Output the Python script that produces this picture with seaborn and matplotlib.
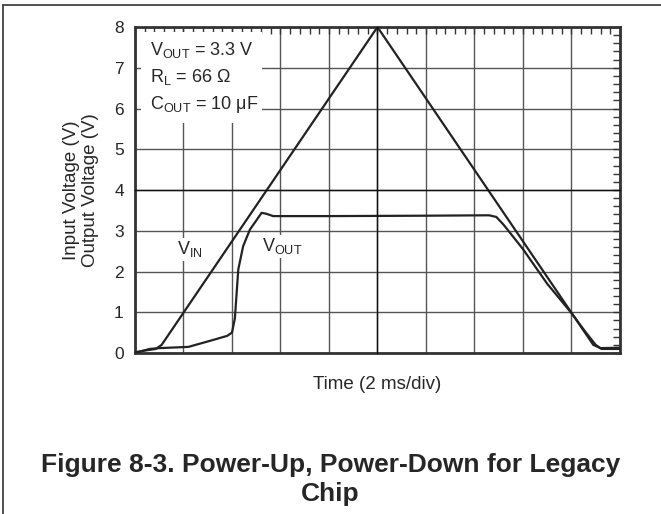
import numpy as np
import pandas as pd
import seaborn as sns
import matplotlib.pyplot as plt
from matplotlib.lines import Line2D
from matplotlib.patches import Rectangle
from matplotlib.ticker import MultipleLocator, NullFormatter

# --- data (x in divisions, 2 ms/div) ---
t_vin = [0, 0.2, 0.43, 0.55, 5.0, 9.45, 9.6, 10]
vin = [0.02, 0.06, 0.1, 0.2, 8.0, 0.2, 0.12, 0.13]

t_vout = [0, 0.3, 0.5, 1.1, 1.55, 1.9, 2.0, 2.06, 2.13, 2.23, 2.37, 2.5, 2.61,
          2.7, 2.85, 4.0, 6.0, 7.3, 7.45, 7.6, 7.8, 8.0, 8.5, 9.0, 9.3, 9.5,
          9.62, 10]
vout = [0.0, 0.1, 0.12, 0.15, 0.3, 0.42, 0.5, 0.85, 2.05, 2.62, 3.03, 3.25,
        3.44, 3.42, 3.36, 3.36, 3.37, 3.38, 3.34, 3.15, 2.85, 2.55, 1.7, 0.98,
        0.5, 0.2, 0.1, 0.1]

conditions = ["$\\mathrm{V_{OUT}}$ = 3.3 V", "$\\mathrm{R_{L}}$ = 66 Ω",
              "$\\mathrm{C_{OUT}}$ = 10 μF"]

sns.set_style("white")
plt.rcParams['font.family'] = ['Liberation Sans', 'DejaVu Sans']
plt.rcParams['mathtext.fontset'] = 'custom'
plt.rcParams['mathtext.rm'] = 'Liberation Sans'
plt.rcParams['mathtext.it'] = 'Liberation Sans:italic'
plt.rcParams['mathtext.bf'] = 'Liberation Sans:bold'

fig = plt.figure(figsize=(6.61, 5.14), dpi=100)
ax = fig.add_axes([0.2042, 0.3132, 0.7337, 0.6342])

df_in = pd.DataFrame({"t": t_vin, "v": vin})
df_out = pd.DataFrame({"t": t_vout, "v": vout})
sns.lineplot(data=df_in, x="t", y="v", ax=ax, color="#222222", lw=1.6,
             zorder=3, sort=False)
sns.lineplot(data=df_out, x="t", y="v", ax=ax, color="#222222", lw=1.6,
             zorder=3, sort=False)

ax.set_xlim(0, 10)
ax.set_ylim(0, 8)
ax.xaxis.set_major_locator(MultipleLocator(1))
ax.xaxis.set_minor_locator(MultipleLocator(0.2))
ax.yaxis.set_major_locator(MultipleLocator(1))
ax.yaxis.set_minor_locator(MultipleLocator(0.2))
ax.xaxis.set_major_formatter(NullFormatter())
ax.tick_params(which='both', direction='in', top=True, right=True,
               length=5, width=1, color='#333333')
ax.tick_params(axis='y', which='major', labelsize=12.5, pad=8)
ax.grid(True, which='major', color='#555555', lw=1)
for s in ax.spines.values():
    s.set_linewidth(2)
    s.set_color('#333333')

ax.set_xlabel("Time (2 ms/div)", fontsize=13.5, labelpad=13)
ax.set_ylabel("Input Voltage (V)\nOutput Voltage (V)", fontsize=13.5,
              labelpad=11, linespacing=1.12)

# centre cross-hair with ticks
ax2 = fig.add_axes(ax.get_position(), facecolor='none')
ax2.set_xlim(0, 10)
ax2.set_ylim(0, 8)
ax2.spines['left'].set_position(('data', 5))
ax2.spines['bottom'].set_position(('data', 4))
ax2.spines['top'].set_visible(False)
ax2.spines['right'].set_visible(False)
for s in ['left', 'bottom']:
    ax2.spines[s].set_linewidth(1)
    ax2.spines[s].set_color('#111111')
ax2.xaxis.set_major_locator(MultipleLocator(1))
ax2.xaxis.set_minor_locator(MultipleLocator(0.2))
ax2.yaxis.set_major_locator(MultipleLocator(1))
ax2.yaxis.set_minor_locator(MultipleLocator(0.2))
ax2.tick_params(which='both', direction='inout', length=7, width=1,
                color='#333333', labelbottom=False, labelleft=False)

# white box behind the conditions
ax.add_patch(Rectangle((0.012, 0.706), 0.25, 0.279, transform=ax.transAxes,
                       facecolor='white', edgecolor='none', zorder=2))
for i, txt in enumerate(conditions):
    ax.text(0.31, 7.43 - 0.66 * i, txt, fontsize=13, va='center', zorder=4)

ax.text(1.13, 2.55, "$\\mathrm{V_{IN}}$", fontsize=13, ha='center',
        va='center', zorder=4,
        bbox=dict(facecolor='white', edgecolor='none', pad=1))
ax.text(2.62, 2.62, "$\\mathrm{V_{OUT}}$", fontsize=13, ha='left',
        va='center', zorder=4,
        bbox=dict(facecolor='white', edgecolor='none', pad=1))

# page frame and caption
fig.add_artist(Line2D([3 / 661, 1], [1 - 5 / 514, 1 - 5 / 514], color='#333333', lw=1.2))
fig.add_artist(Line2D([3 / 661, 3 / 661], [0, 1 - 5 / 514], color='#333333', lw=1.2))
fig.text(0.5, 1 - 472 / 514, "Figure 8-3. Power-Up, Power-Down for Legacy",
         ha='center', va='baseline', fontsize=19, fontweight='bold')
fig.text(0.5, 1 - 501 / 514, "Chip", ha='center', va='baseline',
         fontsize=19, fontweight='bold')

fig.savefig("out.png", dpi=100)
